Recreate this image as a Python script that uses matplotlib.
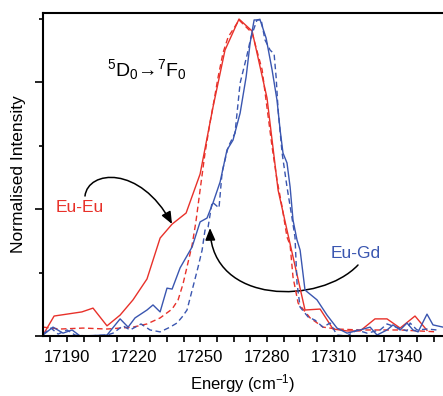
import numpy as np
import matplotlib
matplotlib.use("Agg")
import matplotlib.pyplot as plt
from matplotlib.ticker import MultipleLocator
from matplotlib.patches import FancyArrowPatch
from matplotlib.path import Path

plt.rcParams['font.family'] = ['Liberation Sans', 'DejaVu Sans']
plt.rcParams['mathtext.fontset'] = 'custom'
plt.rcParams['mathtext.rm'] = 'Liberation Sans'
plt.rcParams['mathtext.it'] = 'Liberation Sans'

RED = '#E8312A'
BLUE = '#3A56B0'

# Eu-Eu, solid
eueu_x = [17179.2, 17184.2, 17196.7, 17201.7, 17208.0, 17213.9, 17219.7, 17226.0,
          17231.9, 17237.3, 17243.6, 17249.9, 17255.7, 17261.1, 17267.4, 17273.3,
          17280.0, 17285.0, 17289.0, 17297.1, 17303.9, 17309.7, 17316.0, 17321.9,
          17328.6, 17334.0, 17339.9, 17346.6, 17352.0]
eueu_y = [0.003, 0.063, 0.076, 0.088, 0.032, 0.066, 0.114, 0.180,
          0.309, 0.353, 0.388, 0.511, 0.722, 0.902, 1.000, 0.962,
          0.751, 0.460, 0.334, 0.082, 0.085, 0.022, 0.016, 0.016,
          0.054, 0.054, 0.025, 0.063, 0.018]

# Eu-Eu, dashed
eueu2_x = [17179.2, 17186.9, 17197.2, 17208.0, 17219.7, 17226.0, 17231.9, 17237.3,
           17240.0, 17242.2, 17244.5, 17246.3, 17248.0, 17249.9, 17252.1, 17254.4,
           17256.2, 17258.0, 17260.2, 17262.5, 17265.2, 17267.4, 17273.3, 17277.8,
           17282.3, 17284.5, 17286.8, 17289.0, 17290.4, 17291.7, 17294.0, 17299.4,
           17305.2, 17311.5, 17321.9, 17339.9, 17356.5]
eueu2_y = [0.028, 0.022, 0.025, 0.022, 0.028, 0.038, 0.057, 0.085,
           0.114, 0.164, 0.233, 0.287, 0.360, 0.461, 0.577, 0.675,
           0.744, 0.817, 0.893, 0.943, 0.972, 0.997, 0.956, 0.840,
           0.596, 0.492, 0.407, 0.312, 0.287, 0.186, 0.104, 0.057,
           0.028, 0.022, 0.019, 0.019, 0.013]

# Eu-Gd, solid
eugd_x = [17179.2, 17183.7, 17188.2, 17192.3, 17195.9, 17208.0, 17213.9, 17217.5,
          17220.6, 17226.0, 17228.7, 17231.9, 17235.0, 17237.3, 17240.9, 17246.3,
          17249.9, 17253.0, 17255.7, 17258.9, 17262.0, 17264.7, 17267.9, 17270.6,
          17272.4, 17274.2, 17276.9, 17279.6, 17282.3, 17284.5, 17285.9, 17287.2,
          17289.0, 17290.4, 17291.7, 17293.5, 17294.9, 17297.1, 17302.5, 17307.0,
          17311.5, 17316.0, 17321.9, 17326.4, 17329.5, 17334.0, 17336.7, 17339.9,
          17343.0, 17345.7, 17348.0, 17352.0, 17354.7, 17359.2]
eugd_y = [0.003, 0.028, 0.009, 0.019, 0.000, 0.003, 0.054, 0.028,
          0.057, 0.082, 0.098, 0.076, 0.151, 0.148, 0.215, 0.281,
          0.360, 0.372, 0.420, 0.486, 0.587, 0.618, 0.703, 0.817,
          0.924, 0.997, 0.997, 0.940, 0.839, 0.744, 0.650, 0.577,
          0.546, 0.470, 0.366, 0.303, 0.271, 0.145, 0.114, 0.066,
          0.025, 0.009, 0.019, 0.028, 0.003, 0.019, 0.035, 0.019,
          0.041, 0.019, 0.013, 0.069, 0.035, 0.028]

# Eu-Gd, dashed
eugd2_x = [17179.2, 17182.8, 17186.0, 17190.0, 17193.6, 17199.0, 17208.0, 17210.7,
           17215.2, 17218.4, 17223.3, 17227.4, 17231.9, 17236.4, 17239.5, 17241.8,
           17244.0, 17246.7, 17249.0, 17250.8, 17252.1, 17253.5, 17255.3, 17258.4,
           17259.8, 17262.5, 17265.6, 17267.9, 17271.0, 17272.8, 17275.5, 17277.3,
           17279.1, 17281.4, 17283.2, 17284.1, 17285.0, 17286.8, 17289.0, 17291.2,
           17292.6, 17293.5, 17294.9, 17298.5, 17301.6, 17305.2, 17308.4, 17311.5,
           17316.0, 17320.5, 17325.0, 17330.9, 17334.0, 17343.0, 17344.4, 17347.5,
           17352.0, 17356.5]
eugd2_y = [0.006, 0.025, 0.006, 0.019, 0.003, 0.000, 0.003, 0.009,
           0.032, 0.019, 0.038, 0.019, 0.013, 0.028, 0.041, 0.060,
           0.082, 0.155, 0.218, 0.271, 0.334, 0.344, 0.423, 0.404,
           0.517, 0.596, 0.640, 0.798, 0.886, 0.943, 0.997, 1.000,
           0.934, 0.902, 0.890, 0.817, 0.713, 0.577, 0.470, 0.375,
           0.312, 0.167, 0.091, 0.060, 0.050, 0.028, 0.041, 0.003,
           0.000, 0.019, 0.009, 0.019, 0.038, 0.016, 0.041, 0.019,
           0.022, 0.019]

fig = plt.figure(figsize=(4.43, 3.96), dpi=100)
ax = fig.add_axes([43 / 443, 60 / 396, 1 - 43 / 443, 323 / 396])

dash = (0, (4, 2.5))
ax.plot(eueu_x, eueu_y, color=RED, lw=1.0)
ax.plot(eueu2_x, eueu2_y, color=RED, lw=1.0, ls=dash)
ax.plot(eugd_x, eugd_y, color=BLUE, lw=1.0)
ax.plot(eugd2_x, eugd2_y, color=BLUE, lw=1.0, ls=dash)

ax.set_xlim(17179.2, 17359.2)
ax.set_ylim(0, 1.019)

ax.xaxis.set_major_locator(MultipleLocator(30))
ax.xaxis.set_minor_locator(MultipleLocator(7.5))
ax.yaxis.set_major_locator(MultipleLocator(0.4))
ax.yaxis.set_minor_locator(MultipleLocator(0.2))
ax.set_yticklabels([])
ax.tick_params(axis='x', which='both', direction='out', length=4, width=1.2, labelsize=12, pad=6)
ax.tick_params(axis='y', which='major', direction='out', length=6, width=1.2)
ax.tick_params(axis='y', which='minor', direction='out', length=3, width=1.2)
for s in ['left', 'bottom', 'top']:
    ax.spines[s].set_linewidth(1.5)
ax.spines['right'].set_visible(False)

ax.set_xlabel('Energy (cm$^{-1}$)', fontsize=12, labelpad=5)
ax.set_ylabel('Normalised Intensity', fontsize=12.5, labelpad=3)

ax.text(17208, 0.82, '$^5$D$_0$\u2192$^7$F$_0$', fontsize=14)
ax.text(17185, 0.39, 'Eu-Eu', color=RED, fontsize=12.5)
ax.text(17308.5, 0.245, 'Eu-Gd', color=BLUE, fontsize=12.5)


def to_data(px, py):
    # helper for annotation paths given in picture pixels
    return (17190 + (px - 67) * 0.45, (336 - py) / 317 * 1.0)


arrow1 = [to_data(*p) for p in [(85, 196), (88, 170), (140, 165), (172, 224)]]
arrow2 = [to_data(*p) for p in [(358, 265), (320, 305), (212, 305), (210, 228)]]
codes = [Path.MOVETO, Path.CURVE4, Path.CURVE4, Path.CURVE4]
for verts in [arrow1, arrow2]:
    arr = FancyArrowPatch(path=Path(verts, codes), arrowstyle='-|>,head_length=0.6,head_width=0.25',
                          mutation_scale=12, color='black', lw=1.1, transform=ax.transData)
    ax.add_patch(arr)

fig.savefig('out.png', dpi=100)
